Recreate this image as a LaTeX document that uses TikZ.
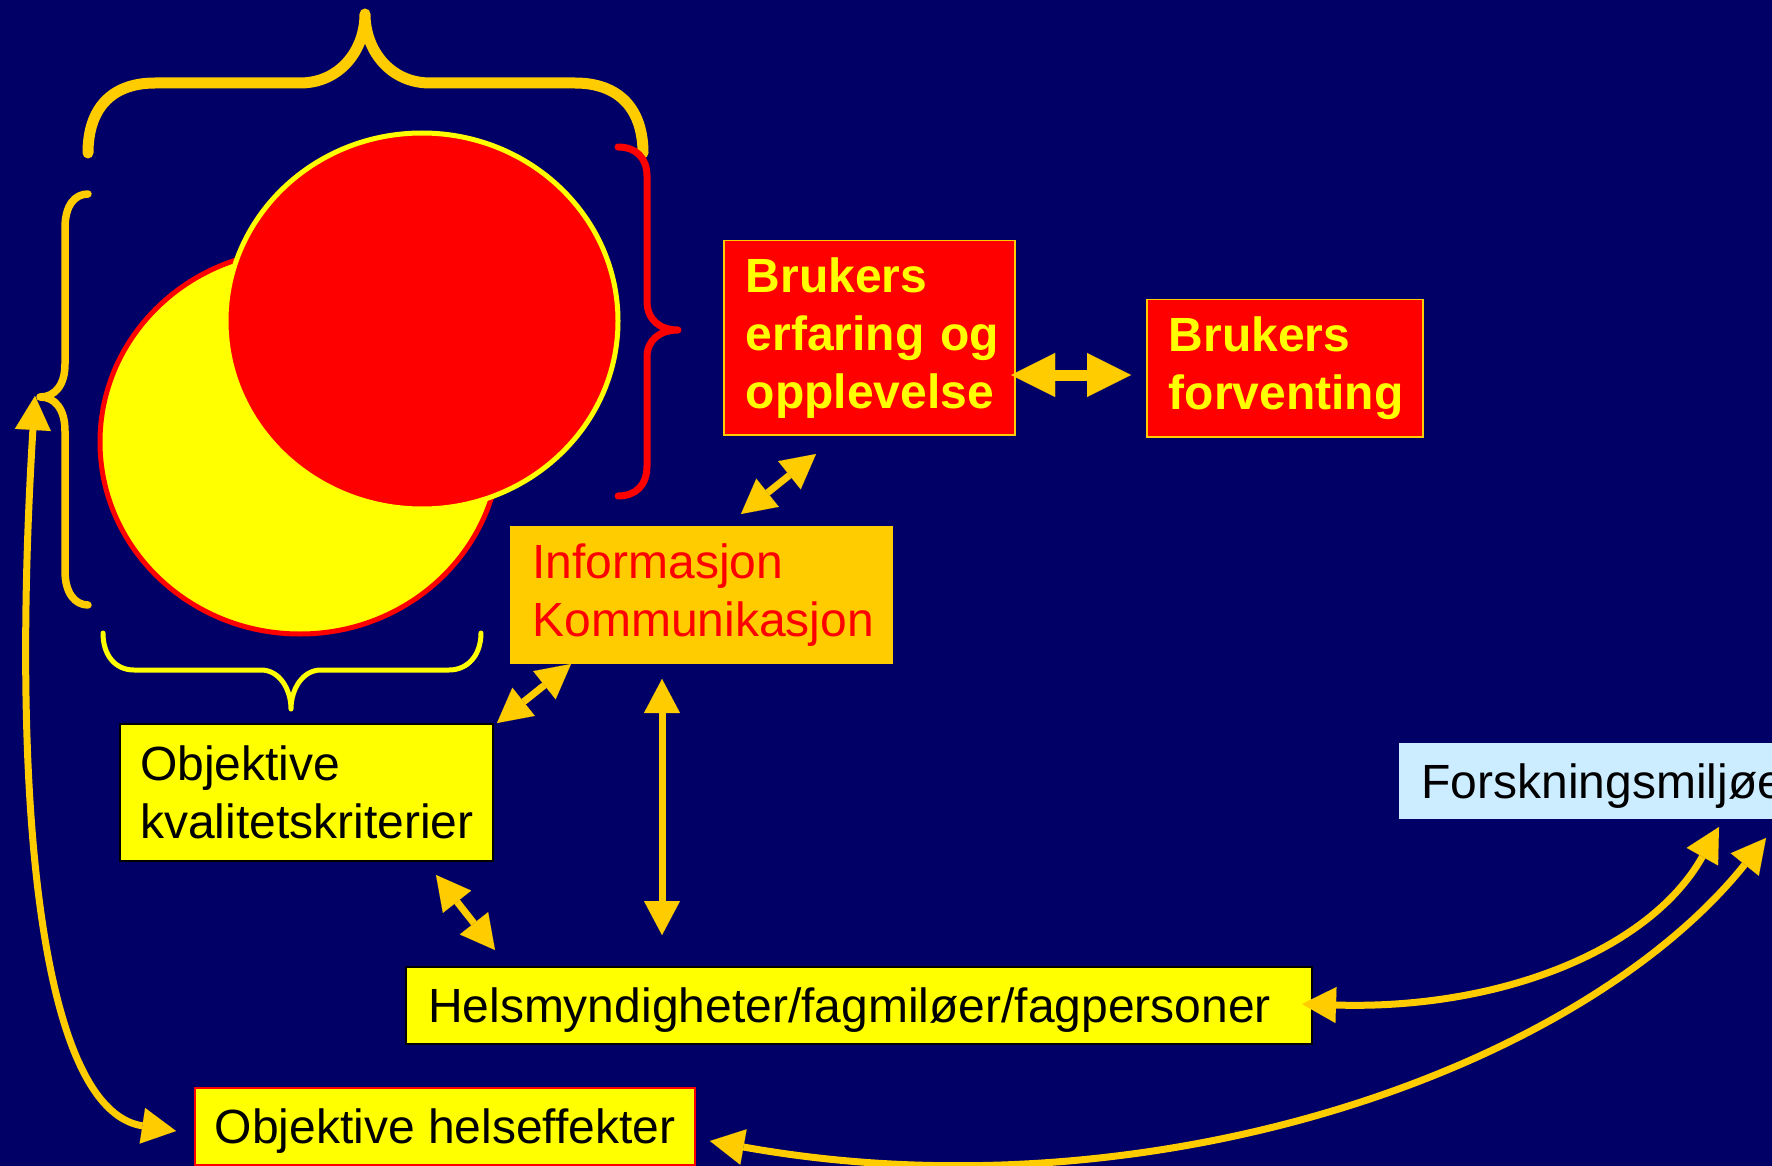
\documentclass[tikz,border=0pt]{standalone}
\usepackage{fontspec}
\setmainfont{Liberation Sans}
\usetikzlibrary{arrows.meta}
\definecolor{bg}{RGB}{0,0,102}
\definecolor{gold}{RGB}{255,204,0}
\definecolor{ylw}{RGB}{255,255,0}
\definecolor{rd}{RGB}{255,0,0}
\definecolor{lblue}{RGB}{204,236,255}
\tikzset{
  boxsty/.style={anchor=north west, inner xsep=11pt, inner ysep=0pt, align=left,
    execute at begin node={\hyphenpenalty=10000},
    font=\fontsize{24pt}{29pt}\selectfont},
  oneline/.style={text depth=0pt},
  thinarr/.style={draw=gold, line width=3.5pt,
    {Triangle[length=17pt,width=18pt,line width=0.01pt]}-{Triangle[length=17pt,width=18pt,line width=0.01pt]}},
  fatarr/.style={draw=gold, line width=5.5pt,
    {Triangle[length=22pt,width=22pt,line width=0.01pt]}-{Triangle[length=22pt,width=22pt,line width=0.01pt]}},
  bracepen/.style={line cap=round, line join=round}
}
\begin{document}
\begin{tikzpicture}[x=0.5pt,y=-0.5pt]
\useasboundingbox (0,0) rectangle (1772,1166);
\clip (0,0) rectangle (1772,1166);
\fill[bg] (0,0) rectangle (1772,1166);

% circles
\draw[fill=ylw, draw=rd, line width=2.5pt] (300,442) ellipse [x radius=200, y radius=192];
\draw[fill=rd, draw=ylw, line width=2.5pt] (422,321) ellipse [x radius=196, y radius=188];

% top brace
\draw[bracepen, draw=gold, line width=5.5pt]
  (88,153) .. controls (88,110) and (110,83) .. (155,83) -- (300,83)
  .. controls (340,83) and (365,50) .. (365,14)
  .. controls (365,50) and (390,83) .. (430,83) -- (575,83)
  .. controls (620,83) and (643,110) .. (643,153);
% left brace
\draw[bracepen, draw=gold, line width=3.75pt]
  (88,194) .. controls (75,194) and (65,205) .. (65,228) -- (65,364)
  .. controls (65,385) and (55,397) .. (40,397)
  .. controls (55,397) and (65,409) .. (65,431) -- (65,571)
  .. controls (65,593) and (75,605) .. (88,605);
% right brace
\draw[bracepen, draw=rd, line width=3.5pt]
  (618,147) .. controls (636,147) and (647,158) .. (647,176) -- (647,301)
  .. controls (647,320) and (660,330) .. (678,330)
  .. controls (660,330) and (647,340) .. (647,357) -- (647,466)
  .. controls (647,485) and (636,496) .. (618,496);
% bottom brace
\draw[bracepen, draw=ylw, line width=2.5pt]
  (103,633) .. controls (103,655) and (115,670) .. (134,670) -- (261,670)
  .. controls (280,670) and (291,690) .. (291,709)
  .. controls (291,690) and (302,670) .. (321,670) -- (449,670)
  .. controls (468,670) and (481,655) .. (481,633);

% boxes
\node[boxsty, fill=rd, draw=gold, line width=0.75pt, text=ylw, text width=123.5pt,
  minimum height=97pt, font=\fontsize{24pt}{29pt}\selectfont\bfseries]
  (brukA) at (723,240) {Brukers\\erfaring~og\\opplevelse};
\node[boxsty, fill=rd, draw=gold, line width=0.75pt, text=ylw, text width=116pt,
  minimum height=68.5pt, font=\fontsize{24pt}{29pt}\selectfont\bfseries]
  (brukB) at (1146,299) {Brukers\\forventing};
\node[boxsty, fill=gold, text=rd, text width=169.5pt, minimum height=69pt]
  (info) at (510,526) {Informasjon\\Kommunikasjon};
\node[boxsty, inner xsep=10pt, fill=ylw, draw=black, line width=1pt, text=black, text width=166.5pt,
  minimum height=68.5pt] (objK) at (119,723) {Objektive\\kvalitetskriterier};
\node[boxsty, oneline, fill=ylw, draw=black, line width=1pt, text=black, text width=431pt,
  minimum height=38.5pt] (helsm) at (405,966) {Helsmyndigheter/fagmiløer/fagpersoner};
\node[boxsty, oneline, inner xsep=0pt, fill=ylw, draw=rd, line width=1pt, text=black,
  minimum width=250pt, minimum height=38.5pt] (objH) at (194,1087) {Objektive helseffekter};
\node[boxsty, oneline, fill=lblue, text=black, text width=203pt,
  minimum height=38pt] (forsk) at (1399,743) {Forskningsmiljøer};

% connector end points
\coordinate (brukA-e) at (1011,375);
\coordinate (brukB-w) at (1131,375);
\coordinate (brukA-s) at (816,454);
\coordinate (info-n) at (741,514);
\coordinate (info-sw) at (571,664);
\coordinate (objK-ne) at (497,723);
\coordinate (info-s) at (662,679);
\coordinate (helsm-n) at (662,935);
\coordinate (objK-se) at (436,875);
\coordinate (helsm-nw) at (495,950);
\coordinate (brace-tip) at (35,396);
\coordinate (objH-w) at (176,1131);
\coordinate (helsm-e) at (1302,1004);
\coordinate (forsk-s1) at (1719,827);
\coordinate (objH-e) at (710,1141);
\coordinate (forsk-s2) at (1766,838);

% connectors
\draw[fatarr] (brukA-e) -- (brukB-w);
\draw[thinarr] (info-n) -- (brukA-s);
\draw[thinarr] (objK-ne) -- (info-sw);
\draw[thinarr] (info-s) -- (helsm-n);
\draw[thinarr] (objK-se) -- (helsm-nw);
\draw[thinarr] (brace-tip) .. controls (10,800) and (40,1110) .. (objH-w);
\draw[thinarr] (helsm-e) .. controls (1500,1010) and (1650,950) .. (forsk-s1);
\draw[thinarr] (objH-e) .. controls (1150,1220) and (1580,1070) .. (forsk-s2);
\end{tikzpicture}
\end{document}
